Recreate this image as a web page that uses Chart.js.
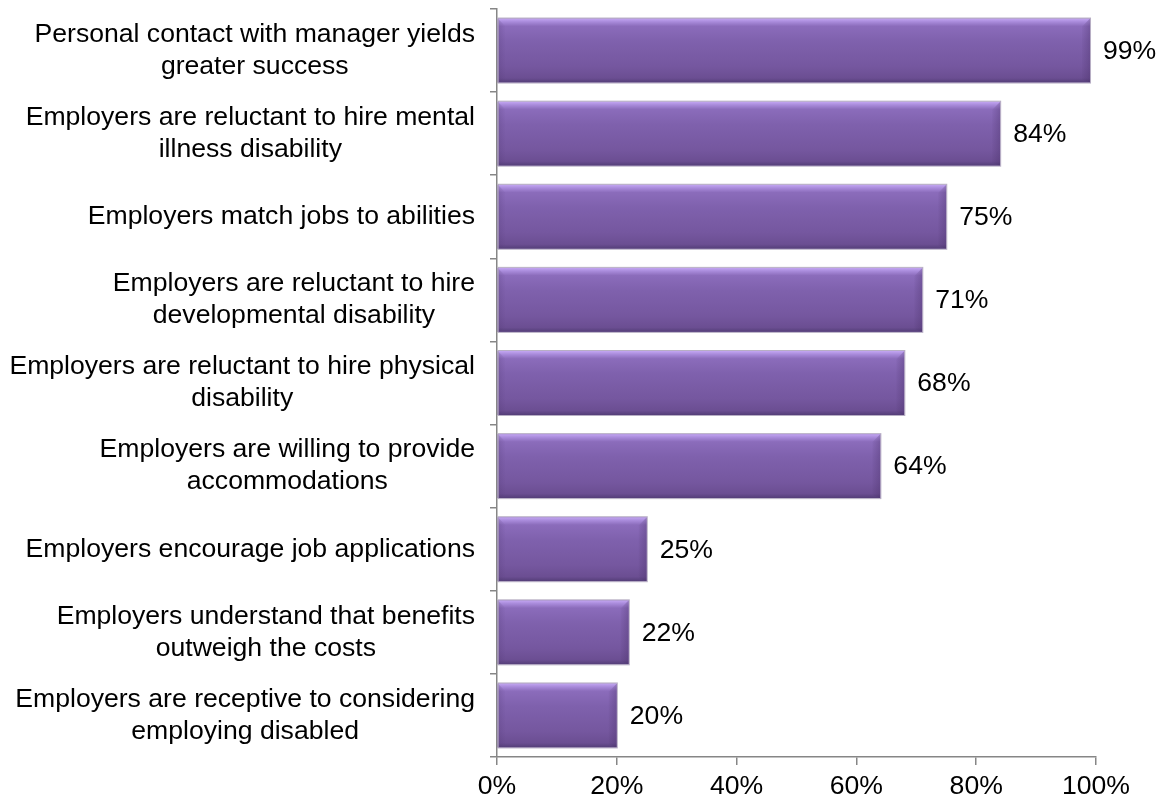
<!DOCTYPE html>
<html>
<head>
<meta charset="utf-8">
<script src="https://cdn.jsdelivr.net/npm/chart.js@4.4.1/dist/chart.umd.min.js"></script>
<style>
  html, body { margin: 0; padding: 0; background: #ffffff; }
  #wrap { width: 1156px; height: 804px; position: relative; }
</style>
</head>
<body>
<div id="wrap"><canvas id="chart" width="1156" height="804"></canvas></div>
<script>
// Survey statements (each entry is the list of wrapped lines for that label)
const categories = [
  ["Personal contact with manager yields", "greater success"],
  ["Employers are reluctant to hire mental", "illness disability"],
  ["Employers match jobs to abilities"],
  ["Employers are reluctant to hire", "developmental disability"],
  ["Employers are reluctant to hire physical", "disability"],
  ["Employers are willing to provide", "accommodations"],
  ["Employers encourage job applications"],
  ["Employers understand that benefits", "outweigh the costs"],
  ["Employers are receptive to considering", "employing disabled"]
];

// Share of respondents agreeing, in percent
const values = [99, 84, 75, 71, 68, 64, 25, 22, 20];

// Value axis tick positions (percent)
const xTicks = [0, 20, 40, 60, 80, 100];

const FONT = "'Liberation Sans', Arial, sans-serif";
const FONT_SIZE = 26.6;
const AXIS_GREY = '#868686';

// Paints the bevelled purple look over each bar and writes the value labels
const bevelBars = {
  id: 'bevelBars',
  afterDatasetsDraw(chart) {
    const ctx = chart.ctx;
    const meta = chart.getDatasetMeta(0);
    ctx.save();
    meta.data.forEach((bar, i) => {
      const p = bar.getProps(['x', 'y', 'base', 'height'], true);
      const l = Math.min(p.base, p.x), r = Math.max(p.base, p.x);
      const t = p.y - p.height / 2, b = p.y + p.height / 2;
      const w = r - l, h = b - t;

      // body: light rim at the top, deepening toward the bottom
      const g = ctx.createLinearGradient(0, t, 0, b);
      g.addColorStop(0, '#c3a6f2');
      g.addColorStop(0.05, '#a98bdb');
      g.addColorStop(0.12, '#8b6cbb');
      g.addColorStop(0.35, '#7f61ad');
      g.addColorStop(0.75, '#75579f');
      g.addColorStop(0.93, '#6b4e92');
      g.addColorStop(1, '#543e78');
      ctx.fillStyle = g;
      ctx.fillRect(l, t, w, h);

      // right edge bevel
      const bw = Math.min(8, w / 4);
      const gr = ctx.createLinearGradient(r - bw, 0, r, 0);
      gr.addColorStop(0, 'rgba(70,45,100,0.05)');
      gr.addColorStop(1, 'rgba(70,45,100,0.32)');
      ctx.fillStyle = gr;
      ctx.beginPath();
      ctx.moveTo(r - bw, t + bw);
      ctx.lineTo(r, t);
      ctx.lineTo(r, b);
      ctx.lineTo(r - bw, b - 3);
      ctx.closePath();
      ctx.fill();

      // left edge bevel
      const gl = ctx.createLinearGradient(l, 0, l + bw, 0);
      gl.addColorStop(0, 'rgba(80,55,115,0.25)');
      gl.addColorStop(1, 'rgba(80,55,115,0)');
      ctx.fillStyle = gl;
      ctx.beginPath();
      ctx.moveTo(l, t);
      ctx.lineTo(l + bw, t + bw);
      ctx.lineTo(l + bw, b - 3);
      ctx.lineTo(l, b);
      ctx.closePath();
      ctx.fill();

      // thin outline
      ctx.strokeStyle = 'rgba(175,165,190,0.9)';
      ctx.lineWidth = 1;
      ctx.strokeRect(l + 0.5, t - 0.5, w, h + 1);

      // value label
      ctx.fillStyle = '#000000';
      ctx.font = FONT_SIZE + 'px ' + FONT;
      ctx.textAlign = 'left';
      ctx.textBaseline = 'middle';
      ctx.fillText(values[i] + '%', r + 13, p.y + 1);
    });
    ctx.restore();
  }
};

// Category labels: block right-aligned to the axis, lines centred within the block
const categoryLabels = {
  id: 'categoryLabels',
  afterDraw(chart) {
    const ctx = chart.ctx;
    const yScale = chart.scales.y;
    const rightEdge = chart.chartArea.left - 22;
    const lineH = 32;
    ctx.save();
    ctx.fillStyle = '#000000';
    ctx.font = FONT_SIZE + 'px ' + FONT;
    ctx.textAlign = 'center';
    ctx.textBaseline = 'middle';
    categories.forEach((lines, i) => {
      const cy = yScale.getPixelForValue(i);
      const blockW = Math.max(...lines.map(s => ctx.measureText(s).width));
      const cx = rightEdge - blockW / 2;
      const y0 = cy - (lines.length - 1) * lineH / 2;
      lines.forEach((s, k) => ctx.fillText(s, cx, y0 + k * lineH));
    });
    ctx.restore();
  }
};

new Chart(document.getElementById('chart'), {
  type: 'bar',
  data: {
    labels: categories.map(c => c.join(' ')),
    datasets: [{
      data: values,
      backgroundColor: '#7a5ca6',
      borderWidth: 0,
      barPercentage: 0.77,
      categoryPercentage: 1.0
    }]
  },
  options: {
    indexAxis: 'y',
    responsive: false,
    animation: false,
    layout: { padding: { top: 9, right: 60, left: 0, bottom: 0 } },
    plugins: {
      legend: { display: false },
      tooltip: { enabled: false }
    },
    scales: {
      x: {
        min: 0,
        max: 100,
        afterBuildTicks(scale) { scale.ticks = xTicks.map(v => ({ value: v })); },
        afterFit(scale) { scale.height = 47; },
        grid: { drawOnChartArea: false, drawTicks: true, tickLength: 8, color: AXIS_GREY, lineWidth: 1.5 },
        border: { color: AXIS_GREY, width: 1.5 },
        ticks: {
          color: '#000000',
          font: { family: FONT, size: FONT_SIZE },
          padding: 6,
          maxRotation: 0,
          callback: v => v + '%'
        }
      },
      y: {
        afterFit(scale) { scale.width = 497; },
        grid: { drawOnChartArea: false, drawTicks: true, tickLength: 7, offset: true, color: AXIS_GREY, lineWidth: 1.5 },
        border: { color: AXIS_GREY, width: 1.5 },
        ticks: { display: false }
      }
    }
  },
  plugins: [bevelBars, categoryLabels]
});
</script>
</body>
</html>
